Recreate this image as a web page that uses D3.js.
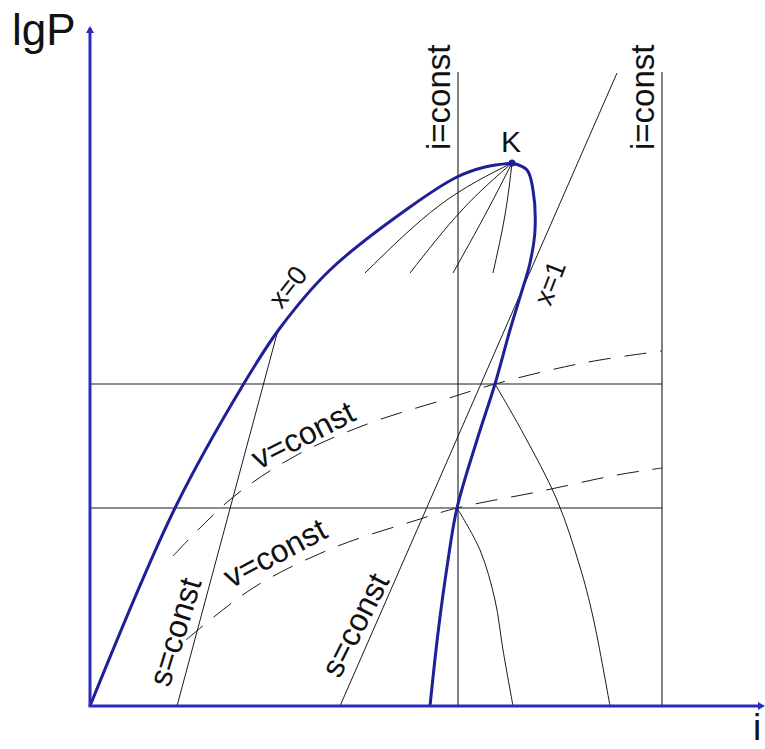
<!DOCTYPE html>
<html>
<head>
<meta charset="utf-8">
<script src="https://cdn.jsdelivr.net/npm/d3@7"></script>
<style>
  html, body { margin: 0; padding: 0; background: #fff; }
  svg { display: block; }
  text { font-family: "Liberation Sans", Arial, sans-serif; fill: #111; }
</style>
</head>
<body>
<svg id="chart" width="765" height="749"></svg>
<script>
// Schematic lgP–i diagram (enthalpy on x, log pressure on y), arbitrary units.

// Saturation curves: liquid (x=0) and vapour (x=1), meeting at the critical point K
const liquidLine = [[0,0],[85,198],[153,321],[190,378],[240,436],[320,499],[367,529],[395,539],[422,543]];
const vapourLine = [[422,543],[437,536],[443,516],[445,476],[440,443],[430,409],[420,376],[405,322],[387,266],[367,198],[357,139],[348,73],[340,0]];
const critical = [422, 543];

// Dryness-fraction lines fanning out from K (end points)
const qualityEnds = [[275,433],[320,433],[363,433],[403,433]];
const qualityMids = [[350,501],[372,496],[395,491],[415,491]];

// Isobars (lgP = const) and isenthalps (i = const)
const isobars = [322, 198];
const isenthalps = [368, 572];
const lgPTop = 634;

// Isentropes (s = const)
const isentropes = [
  [[188,376],[87,0]],
  [[250,0],[527,633]]
];

// Superheated-region curves starting on x=1
const superheat = [
  [[367,198],[390,156],[405,106],[413,56],[423,0]],
  [[405,322],[433,273],[467,206],[490,139],[503,89],[520,0]]
];

// Isochores (v = const), dashed
const isochores = [
  [[83,150],[142,208],[207,251],[280,283],[353,306],[405,322],[493,343],[572,355]],
  [[96,66],[163,118],[243,158],[327,186],[367,198],[447,214],[527,231],[572,238]]
];

// Text labels: [text, i, lgP, rotation, fontSize]
const curveLabels = [
  ["x=0", 198, 419, -52, 27],
  ["x=1", 460, 423, -69, 27],
  ["v=const", 213, 271, -27, 32],
  ["v=const", 185, 153, -28, 32],
  ["s=const", 85, 74, -73, 32],
  ["s=const", 265, 81, -63, 32]
];
const constLabel = "i=const";

const svg = d3.select("#chart");
const x = d3.scaleLinear().domain([0, 670]).range([90, 760]);
const y = d3.scaleLinear().domain([0, 680]).range([706, 26]);

const axisBlue = "#2b2bbd";
const curveBlue = "#1f1f98";
const ink = "#1a1a1a";

const line = d3.line().x(d => x(d[0])).y(d => y(d[1]));
const smooth = d3.line().x(d => x(d[0])).y(d => y(d[1])).curve(d3.curveCatmullRom.alpha(0.5));

const g = svg.append("g");

// isobars
g.selectAll(".isobar").data(isobars).join("line")
  .attr("x1", x(0)).attr("x2", x(isenthalps[1]))
  .attr("y1", d => y(d)).attr("y2", d => y(d))
  .attr("stroke", ink).attr("stroke-width", 1.1);

// isenthalps
g.selectAll(".isenthalp").data(isenthalps).join("line")
  .attr("x1", d => x(d)).attr("x2", d => x(d))
  .attr("y1", y(0)).attr("y2", y(lgPTop))
  .attr("stroke", ink).attr("stroke-width", 1.1);

// isentropes
g.selectAll(".isentrope").data(isentropes).join("path")
  .attr("d", line).attr("fill", "none").attr("stroke", ink).attr("stroke-width", 1);

// superheated curves
g.selectAll(".superheat").data(superheat).join("path")
  .attr("d", smooth).attr("fill", "none").attr("stroke", ink).attr("stroke-width", 1);

// isochores
g.selectAll(".isochore").data(isochores).join("path")
  .attr("d", smooth).attr("fill", "none").attr("stroke", ink).attr("stroke-width", 1)
  .attr("stroke-dasharray", "22,14");

// quality lines from K
g.selectAll(".quality").data(qualityEnds.map((e, k) => [critical, qualityMids[k], e])).join("path")
  .attr("d", d3.line().x(d => x(d[0])).y(d => y(d[1])).curve(d3.curveNatural))
  .attr("fill", "none").attr("stroke", ink).attr("stroke-width", 1);

// saturation curves
g.append("path").datum(liquidLine).attr("d", smooth)
  .attr("fill", "none").attr("stroke", curveBlue).attr("stroke-width", 3);
g.append("path").datum(vapourLine).attr("d", smooth)
  .attr("fill", "none").attr("stroke", curveBlue).attr("stroke-width", 3);
g.append("circle").attr("cx", x(critical[0])).attr("cy", y(critical[1])).attr("r", 3.5).attr("fill", curveBlue);

// axes with arrow heads
const ax = svg.append("g");
ax.append("line").attr("x1", x(0)).attr("y1", y(0)).attr("x2", x(0)).attr("y2", y(678))
  .attr("stroke", axisBlue).attr("stroke-width", 3);
ax.append("line").attr("x1", x(0) - 1.5).attr("y1", y(0)).attr("x2", x(672)).attr("y2", y(0))
  .attr("stroke", axisBlue).attr("stroke-width", 3);
ax.append("path")
  .attr("d", `M${x(0)},${y(680)} l-4,7 l8,0 z`).attr("fill", axisBlue);
ax.append("path")
  .attr("d", `M${x(675)},${y(0)} l-7,-4 l0,8 z`).attr("fill", axisBlue);

// axis titles
svg.append("text").attr("x", x(0) - 78).attr("y", 45)
  .attr("font-size", 44).text("lgP");
svg.append("text").attr("x", 757).attr("y", 740).attr("text-anchor", "middle")
  .attr("font-size", 37).text("i");

// K
svg.append("text").attr("x", x(critical[0]) - 1).attr("y", y(critical[1]) - 11)
  .attr("text-anchor", "middle").attr("font-size", 30).text("K");

// i=const labels along the vertical lines
svg.selectAll(".ilabel").data(isenthalps).join("text")
  .attr("transform", d => `translate(${x(d) - 8},${y(556)}) rotate(-90)`)
  .attr("font-size", 33).text(constLabel);

// curve labels
svg.selectAll(".clabel").data(curveLabels).join("text")
  .attr("transform", d => `translate(${x(d[1])},${y(d[2])}) rotate(${d[3]})`)
  .attr("text-anchor", "middle").attr("dominant-baseline", "central")
  .attr("font-size", d => d[4]).text(d => d[0]);
</script>
</body>
</html>
